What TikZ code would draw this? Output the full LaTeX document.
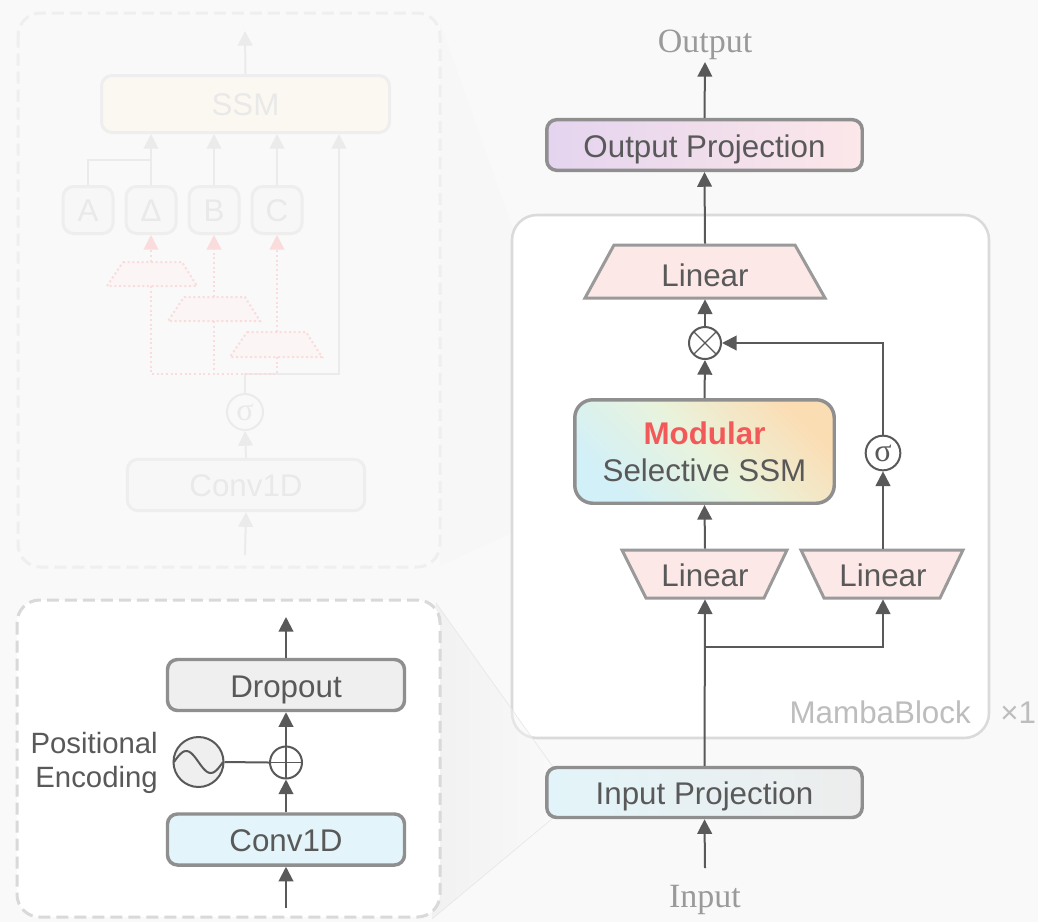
\documentclass[tikz,border=0pt]{standalone}
\usepackage{fontspec}
\setmainfont{Liberation Sans}
\newfontfamily\timesfont{Liberation Serif}
\usetikzlibrary{arrows.meta,calc}

% palette
\definecolor{bg}{HTML}{F9F9F9}
\definecolor{ink}{HTML}{595959}
\definecolor{boxedge}{HTML}{8F8F8F}
\definecolor{linfill}{HTML}{FDE8E8}
\definecolor{linedge}{HTML}{9A9A9A}
\definecolor{convfill}{HTML}{E3F5FA}
\definecolor{dropfill}{HTML}{EFEFEF}
\definecolor{paneledge}{HTML}{D9D9D9}
\definecolor{mambaedge}{HTML}{DADADA}
\definecolor{softgray}{HTML}{BDBDBD}
\definecolor{serifgray}{HTML}{9A9A9A}
\definecolor{modred}{HTML}{F25A5A}
\definecolor{opL}{HTML}{E4D4EF}
\definecolor{opR}{HTML}{FCE7E9}
\definecolor{ipL}{HTML}{E2F4F9}
\definecolor{ipR}{HTML}{EDEDED}
\definecolor{ssmA}{HTML}{D2F0F8}
\definecolor{ssmB}{HTML}{E9F3DC}
\definecolor{ssmC}{HTML}{FBDDB4}
% washed-out colours of the inner SSM sketch
\definecolor{fline}{HTML}{EBEBEB}
\definecolor{fedge}{HTML}{EEEEEE}
\definecolor{ffill}{HTML}{F7F7F7}
\definecolor{ftext}{HTML}{E9E9E9}
\definecolor{fssm}{HTML}{FBF8F2}
\definecolor{fpink}{HTML}{FADCDC}
\definecolor{fpinkfill}{HTML}{FCF5F5}
\definecolor{fpanel}{HTML}{EFEFEF}

\pgfdeclarehorizontalshading{ssmgrad}{100bp}{color(0bp)=(ssmA); color(25bp)=(ssmA); color(50bp)=(ssmB); color(75bp)=(ssmC); color(100bp)=(ssmC)}

\tikzset{
  arr/.style={draw=ink, line width=1.5pt, -{Triangle[length=11pt,width=11pt]}},
  wire/.style={draw=ink, line width=1.5pt},
  box/.style={rectangle, rounded corners=7.5pt, draw=boxedge, line width=2.6pt,
    inner sep=0pt, text=ink, font=\fontsize{23.5}{28}\selectfont},
  oneline/.style={text height=18pt, text depth=0pt},
  trapshape/.style={draw=linedge, fill=linfill, line width=2.25pt},
  traptext/.style={inner sep=0pt, outer sep=1pt, text=ink, font=\fontsize{23.5}{28}\selectfont,
    text height=18pt, text depth=0pt},
  opcircle/.style={circle, draw=ink, fill=white, line width=1.5pt, inner sep=0pt},
  seriflabel/.style={text=serifgray, font=\timesfont\fontsize{25.5}{30}\selectfont, inner sep=2pt},
  dashpanel/.style={dash pattern=on 9pt off 4.5pt, line width=2.25pt, rounded corners=17pt},
  % faded sketch
  farr/.style={draw=fline, line width=1.5pt, -{Triangle[length=11pt,width=11pt]}},
  fwire/.style={draw=fline, line width=1.5pt},
  fbox/.style={rectangle, rounded corners=8pt, draw=fedge, fill=ffill, line width=2.25pt,
    inner sep=0pt, text=ftext, font=\fontsize{23.5}{28}\selectfont, text height=17.5pt, text depth=0pt},
  pdot/.style={draw=fpink, line width=1.5pt, dotted},
  parr/.style={pdot, -{Triangle[length=11pt,width=11pt,fill=fpink]}},
  ptrap/.style={draw=fpink, fill=fpinkfill, line width=1.5pt, dotted},
}

\begin{document}
\begin{tikzpicture}[x=0.75pt,y=-0.75pt]
\useasboundingbox (0,0) rectangle (1038,922);
\fill[bg] (0,0) rectangle (1038,922);

% faint zoom wedge from the inner sketch towards the SSM block
\fill[black, opacity=0.007] (440,22) -- (573,398) -- (573,505) -- (440,566) -- cycle;

% ---------------- inner structure of the selective SSM (washed out) ----------------
\draw[draw=fpanel, fill=bg, dashpanel] (18,13) rectangle (440,567);

\node[fbox, fill=fssm, minimum width=216pt, minimum height=42.75pt] (fssm) at (245.5,104) {SSM};
\node[fbox, minimum width=37.5pt, minimum height=35.25pt] (fA) at (88,210) {A};
\node[fbox, minimum width=37.5pt, minimum height=35.25pt] (fD) at (151,210) {Δ};
\node[fbox, minimum width=37.5pt, minimum height=35.25pt] (fB) at (214,210) {B};
\node[fbox, minimum width=37.5pt, minimum height=35.25pt] (fC) at (277,210) {C};
\node[fbox, minimum width=178pt, minimum height=38.5pt] (fconv) at (246,485) {Conv1D};
\node[circle, draw=fline, fill=bg, line width=1.5pt, inner sep=0pt, minimum size=27pt,
      text=ftext, font=\timesfont\fontsize{24}{28}\selectfont] (fsig) at (245,412) {σ};

% projection trapezoids producing Delta, B, C
\draw[ptrap] (123,262) -- (182,262) -- (197,286) -- (107,286) -- cycle;
\draw[ptrap] (184,297) -- (245,297) -- (260,321) -- (168,321) -- cycle;
\draw[ptrap] (247,332) -- (306,332) -- (322,357) -- (230,357) -- cycle;
\node[inner sep=0pt, minimum width=30pt, minimum height=18pt] (ft1) at (151,274) {};
\node[inner sep=0pt, minimum width=30pt, minimum height=18pt] (ft2) at (214,309) {};
\node[inner sep=0pt, minimum width=30pt, minimum height=18.75pt] (ft3) at (277,344.5) {};

\coordinate (ftop) at (245,31);
\coordinate (fstart) at (245,555);
\coordinate (fjn) at (151,160);
\coordinate (fjoin) at (245,374);
\coordinate (fcorner) at (339,374);

\draw[farr] (fssm.north) -- (ftop);
\draw[fwire] (fA.north) |- (fjn);
\draw[farr] (fD.north) -- (fssm.south -| fD);
\draw[farr] (fB.north) -- (fssm.south -| fB);
\draw[farr] (fC.north) -- (fssm.south -| fC);
\draw[farr] (fsig.north) -- (fjoin) -- (fcorner) -- (fssm.south -| fcorner);
\draw[farr] (fconv.north) -- (fsig.south);
\draw[farr] (fstart) -- (fconv.south);

\draw[parr] (ft1.north) -- (fD.south);
\draw[parr] (ft2.north) -- (fB.south);
\draw[parr] (ft3.north) -- (fC.south);
\draw[pdot] (ft1.south) |- (ft3.south |- fjoin) -- (ft3.south);
\draw[pdot] (ft2.south) -- (ft2.south |- fjoin);

% ---------------- Mamba block frame ----------------
\draw[draw=mambaedge, fill=white, line width=1.9pt, rounded corners=18.75pt] (512,215) rectangle (989,738);
\node[anchor=base east, inner sep=0pt, text=softgray, font=\fontsize{23.5}{28}\selectfont] (mblabel) at (971,723) {MambaBlock};
\node[anchor=base west, inner sep=0pt, text=softgray, font=\fontsize{23.5}{28}\selectfont] (reps) at (1000,723) {×1};

% zoom wedge from the embedding detail to the input projection
\shade[left color=black!9, right color=black!2, opacity=0.45] (436,603) -- (553,767) -- (553,818) -- (432,919) -- cycle;
\draw[black!10, line width=0.4pt] (436,603) -- (553,767) (432,919) -- (553,818);

% ---------------- embedding detail ----------------
\draw[draw=paneledge, fill=white, dashpanel] (17,600) rectangle (440,917);
\node[box, oneline, fill=dropfill, minimum width=177.75pt, minimum height=38.25pt] (drop) at (286,685) {Dropout};
\node[box, oneline, fill=convfill, minimum width=177.75pt, minimum height=38.25pt] (conv) at (286,839.5) {Conv1D};
\node[opcircle, minimum size=24pt,
      path picture={\draw[ink, line width=1pt]
        (path picture bounding box.west) -- (path picture bounding box.east)
        (path picture bounding box.north) -- (path picture bounding box.south);}] (plus) at (286,762.5) {};
\node[opcircle, fill=dropfill, minimum size=37.5pt] (pe) at (198.5,762) {};
\draw[ink, line width=1.5pt, shift={(pe.center)}] plot[domain=-1:1, samples=40, smooth] (\x*24.5, {11*sin(\x*180)});
\node[align=right, anchor=east, inner sep=0pt, text=ink, font=\fontsize{22}{26}\selectfont] (pelbl) at (158,763) {Positional\\Encoding};

\coordinate (droptip) at (286,617);
\coordinate (convstart) at (286,908);
\draw[arr] (drop.north) -- (droptip);
\draw[arr] (plus.north) -- (drop.south);
\draw[arr] (conv.north) -- (plus.south);
\draw[arr] (convstart) -- (conv.south);
\draw[wire] (pe.east) -- (plus.west);

% ---------------- main pipeline ----------------
\node[box, oneline, left color=opL, right color=opR, minimum width=236.6pt, minimum height=38pt] (outproj) at (704.5,145) {Output Projection};
\node[box, oneline, left color=ipL, right color=ipR, minimum width=236.6pt, minimum height=37.5pt] (inproj) at (704.5,792.5) {Input Projection};
\node[box, rounded corners=13.5pt, shade, shading=ssmgrad, shading angle=45,
      minimum width=194.6pt, minimum height=77.6pt, align=center] (ssm) at (704.5,451.5)
      {\textcolor{modred}{\bfseries Modular}\\Selective SSM};

% linear layers (trapezoids)
\draw[trapshape] (614,245) -- (795,245) -- (825,298) -- (585,298) -- cycle;
\node[traptext, text height=22pt, minimum height=39.75pt] (linT) at (705,271.5) {Linear};
\draw[trapshape] (622,550) -- (787,550) -- (764,598) -- (646,598) -- cycle;
\node[traptext, minimum height=36pt] (linL) at (705,574) {Linear};
\draw[trapshape] (801,550) -- (963,550) -- (940,598) -- (824,598) -- cycle;
\node[traptext, minimum height=36pt] (linR) at (883,574) {Linear};

\node[opcircle, minimum size=24pt,
      path picture={\draw[ink, line width=1pt]
        (path picture bounding box.north west) -- (path picture bounding box.south east)
        (path picture bounding box.north east) -- (path picture bounding box.south west);}] (mul) at (705,343) {};
\node[opcircle, minimum size=26pt, text=ink, font=\timesfont\fontsize{24}{28}\selectfont] (sig) at (883,453) {σ};

\node[seriflabel, anchor=base] (outlbl) at (705,52) {Output};
\node[seriflabel, anchor=base] (inlbl) at (705,907) {Input};
\coordinate (outtip) at (705,62);
\coordinate (instart) at (705,868);
\coordinate (split) at (705,647);

\draw[arr] (outproj.north) -- (outtip);
\draw[arr] (linT.north) -- (outproj.south);
\draw[arr] (mul.north) -- (linT.south);
\draw[arr] (ssm.north) -- (mul.south);
\draw[arr] (linL.north) -- (ssm.south);
\draw[arr] (linR.north) -- (sig.south);
\draw[arr] (sig.north) |- (mul.east);
\draw[arr] (inproj.north) -- (linL.south);
\draw[arr] (split) -| (linR.south);
\draw[arr] (instart) -- (inproj.south);
\end{tikzpicture}
\end{document}
